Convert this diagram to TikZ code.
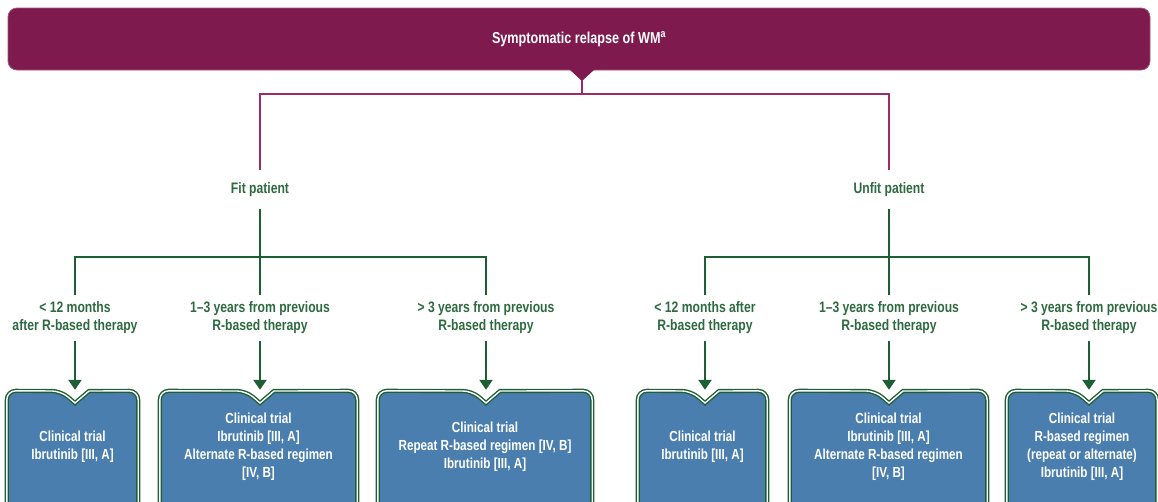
\documentclass[tikz,border=0pt]{standalone}
\usepackage{fontspec}
\setmainfont{Liberation Sans}[FakeStretch=0.8]
\usetikzlibrary{arrows.meta,backgrounds}
\definecolor{wmplum}{HTML}{7E1A4E}
\definecolor{wmline}{HTML}{9B2C68}
\definecolor{wmgreen}{HTML}{1E5E34}
\definecolor{wmtext}{HTML}{2E6A40}
\definecolor{wmblue}{HTML}{4A7EAE}
\tikzset{
  banner/.style={fill=wmplum, draw=wmplum!75!white, line width=0.8pt, rounded corners=9pt,
    minimum width=1142pt, minimum height=62pt, text=white, font=\fontsize{15.8}{18}\selectfont\bfseries},
  tag/.style={text=wmtext, font=\fontsize{15.2}{18}\selectfont\bfseries, align=center, inner sep=0pt},
  rim/.style={draw=wmgreen, line width=1.4pt, double=white, double distance=1.4pt},
  tbox/.style={minimum height=112pt, text=white, align=center, inner sep=0pt,
    font=\fontsize{14.6}{18}\selectfont\bfseries},
  magline/.style={wmline, line width=2pt},
  grline/.style={wmgreen, line width=2.2pt},
  grarrow/.style={grline, -{Triangle[width=13pt,length=10pt]}, shorten >=1pt},
}
\begin{document}
\begin{tikzpicture}[x=1pt,y=-1pt]
  \useasboundingbox (0,0) rectangle (1158,501);
  \clip (0,0) rectangle (1158,501);
  % top banner with its pointer
  \node[banner] (relapse) at (579,39) {Symptomatic relapse of WM\textsuperscript{a}};
  \fill[wmplum] (569,69) -- (582,81) -- (595,69) -- cycle;
  \coordinate (tip) at (582,80);
  \coordinate (split) at (582,94);
  % fit / unfit
  \node[tag, minimum height=39pt] (fit) at (260,189.5) {Fit patient};
  \node[tag, minimum height=39pt] (unfit) at (889,189.5) {Unfit patient};
  \draw[magline] (tip) -- (split) -| (fit.north);
  \draw[magline] (split) -| (unfit.north);
  % time since R-based therapy
  \node[tag, minimum height=45pt] (f1) at (75,318) {< 12 months\\after R-based therapy};
  \node[tag, minimum height=45pt] (f2) at (260,318) {1–3 years from previous\\R-based therapy};
  \node[tag, minimum height=45pt] (f3) at (486,318) {> 3 years from previous\\R-based therapy};
  \node[tag, minimum height=45pt] (u1) at (705,318) {< 12 months after\\R-based therapy};
  \node[tag, minimum height=45pt] (u2) at (889,318) {1–3 years from previous\\R-based therapy};
  \node[tag, minimum height=45pt] (u3) at (1089,318) {> 3 years from previous\\R-based therapy};
  \coordinate (fsplit) at (260,257);
  \coordinate (usplit) at (889,257);
  \draw[grline] (fit.south) -- (f2.north);
  \draw[grline] (f1.north) |- (fsplit) -| (f3.north);
  \draw[grline] (unfit.south) -- (u2.north);
  \draw[grline] (u1.north) |- (usplit) -| (u3.north);
  % treatment boxes
  \node[tbox, minimum width=131pt] (b1) at (72.5,447) {Clinical trial\\Ibrutinib [III, A]};
  \node[tbox, minimum width=197pt] (b2) at (258.5,447) {Clinical trial\\Ibrutinib [III, A]\\Alternate R-based regimen\\{[IV, B]}};
  \node[tbox, minimum width=214pt] (b3) at (485,447) {Clinical trial\\Repeat R-based regimen [IV, B]\\Ibrutinib [III, A]};
  \node[tbox, minimum width=129pt] (b4) at (702.5,447) {Clinical trial\\Ibrutinib [III, A]};
  \node[tbox, minimum width=197pt] (b5) at (888.5,447) {Clinical trial\\Ibrutinib [III, A]\\Alternate R-based regimen\\{[IV, B]}};
  \node[tbox, minimum width=150pt] (b6) at (1082,447) {Clinical trial\\R-based regimen\\(repeat or alternate)\\Ibrutinib [III, A]};
  \begin{scope}[on background layer]
    % box outlines with the notch on top
    \filldraw[rim, fill=wmblue] (b1.south west) [rounded corners=9pt] -- (b1.north west) -- (61,391) [sharp corners] -- (75,403) -- (89,391) [rounded corners=9pt] -- (b1.north east) -- (b1.south east);
    \filldraw[rim, fill=wmblue] (b2.south west) [rounded corners=9pt] -- (b2.north west) -- (246,391) [sharp corners] -- (260,403) -- (274,391) [rounded corners=9pt] -- (b2.north east) -- (b2.south east);
    \filldraw[rim, fill=wmblue] (b3.south west) [rounded corners=9pt] -- (b3.north west) -- (472,391) [sharp corners] -- (486,403) -- (500,391) [rounded corners=9pt] -- (b3.north east) -- (b3.south east);
    \filldraw[rim, fill=wmblue] (b4.south west) [rounded corners=9pt] -- (b4.north west) -- (691,391) [sharp corners] -- (705,403) -- (719,391) [rounded corners=9pt] -- (b4.north east) -- (b4.south east);
    \filldraw[rim, fill=wmblue] (b5.south west) [rounded corners=9pt] -- (b5.north west) -- (875,391) [sharp corners] -- (889,403) -- (903,391) [rounded corners=9pt] -- (b5.north east) -- (b5.south east);
    \filldraw[rim, fill=wmblue] (b6.south west) [rounded corners=9pt] -- (b6.north west) -- (1075,391) [sharp corners] -- (1089,403) -- (1103,391) [rounded corners=9pt] -- (b6.north east) -- (b6.south east);
  \end{scope}
  % arrows into the boxes
  \draw[grarrow] (f1.south) -- (f1.south |- b1.north);
  \draw[grarrow] (f2.south) -- (f2.south |- b2.north);
  \draw[grarrow] (f3.south) -- (f3.south |- b3.north);
  \draw[grarrow] (u1.south) -- (u1.south |- b4.north);
  \draw[grarrow] (u2.south) -- (u2.south |- b5.north);
  \draw[grarrow] (u3.south) -- (u3.south |- b6.north);
\end{tikzpicture}
\end{document}
